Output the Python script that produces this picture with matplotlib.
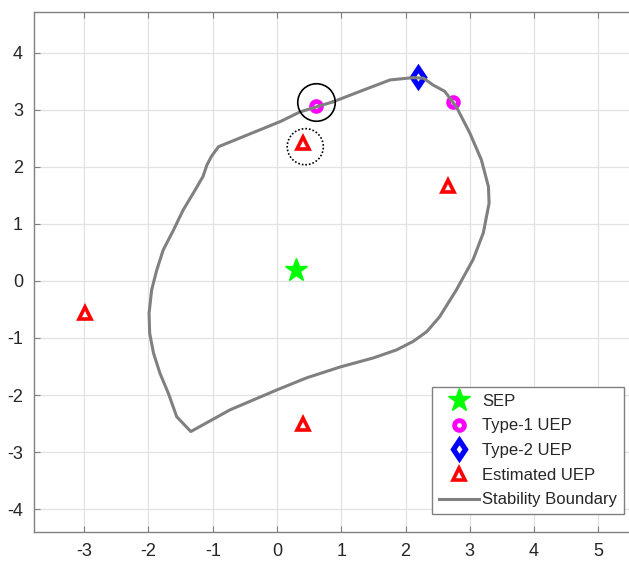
import numpy as np
import matplotlib.pyplot as plt

plt.rcParams["font.family"] = ["Liberation Sans", "DejaVu Sans"]
plt.rcParams["axes.unicode_minus"] = False

# equilibrium points
sep_x = [0.30]
sep_y = [0.19]

type1_x = [0.60, 2.74]
type1_y = [3.06, 3.13]

type2_x = [2.19]
type2_y = [3.57]

est_x = [0.40, 2.66, -2.99, 0.40]
est_y = [2.42, 1.66, -0.56, -2.50]

# stability boundary trace (closed curve)
bnd_x = [0.88, 0.36, 0.05, -0.91, -1.02, -1.09, -1.15, -1.30, -1.46, -1.61,
         -1.77, -1.87, -1.95, -1.99, -1.98, -1.92, -1.82, -1.69, -1.56, -1.34,
         -0.73, 0.00, 0.46, 0.98, 1.50, 1.86, 2.12, 2.33, 2.53, 2.79,
         3.05, 3.21, 3.30, 3.29, 3.18, 3.00, 2.79, 2.61, 2.43, 2.28,
         2.12, 1.76, 1.34, 0.88]
bnd_y = [3.14, 2.96, 2.79, 2.35, 2.18, 2.03, 1.83, 1.54, 1.24, 0.89,
         0.54, 0.19, -0.16, -0.57, -0.92, -1.27, -1.62, -1.97, -2.38, -2.64,
         -2.26, -1.91, -1.70, -1.51, -1.35, -1.21, -1.06, -0.89, -0.63, -0.16,
         0.37, 0.84, 1.36, 1.65, 2.12, 2.59, 3.05, 3.32, 3.43, 3.55,
         3.56, 3.52, 3.34, 3.14]

# highlighted regions
hl_solid = (0.60, 3.13)
hl_dotted = (0.44, 2.35)

xticks = [-3, -2, -1, 0, 1, 2, 3, 4, 5]
yticks = [-4, -3, -2, -1, 0, 1, 2, 3, 4]

fig = plt.figure(figsize=(6.29, 5.65), dpi=100)
ax = fig.add_axes([34 / 629, 33 / 565, 601 / 629, 520 / 565])

ax.plot(sep_x, sep_y, linestyle="none", marker="*", markersize=17,
        color="#00ff00", label="SEP", zorder=3)
ax.plot(type1_x, type1_y, linestyle="none", marker="o", markersize=7,
        markeredgewidth=3.5, markeredgecolor="#ff00ff", markerfacecolor="white",
        label="Type-1 UEP", zorder=3)
ax.plot(type2_x, type2_y, linestyle="none", marker="d", markersize=9.5,
        markeredgewidth=3.8, markeredgecolor="#0000ff", markerfacecolor="white",
        label="Type-2 UEP", zorder=3)
ax.plot(est_x, est_y, linestyle="none", marker="^", markersize=9,
        markeredgewidth=2.6, markeredgecolor="#ff0000", markerfacecolor="white",
        label="Estimated UEP", zorder=3)
ax.plot(bnd_x, bnd_y, color="#808080", linewidth=2.2, solid_joinstyle="round",
        label="Stability Boundary", zorder=4)

# circles marking the points of interest
ax.plot(*hl_solid, linestyle="none", marker="o", markersize=27,
        markerfacecolor="none", markeredgecolor="black", markeredgewidth=1.2,
        zorder=5)
ax.scatter(*hl_dotted, s=26 ** 2, facecolors="none", edgecolors="black",
           linewidths=1.2, linestyles=(0, (1, 1.2)), zorder=5)

ax.set_xlim(-3.78, 5.57)
ax.set_ylim(-4.40, 4.71)
ax.set_xticks(xticks)
ax.set_yticks(yticks)
ax.tick_params(direction="in", top=True, right=True, length=4,
               labelsize=13, labelcolor="#262626", color="#808080", pad=8)
ax.grid(True, color="#e2e2e2", linewidth=0.9)
ax.set_axisbelow(True)
for sp in ax.spines.values():
    sp.set_color("#808080")
    sp.set_linewidth(1.0)

leg = ax.legend(loc="lower right", bbox_to_anchor=(624 / 629, 51 / 565),
                bbox_transform=fig.transFigure, borderaxespad=0,
                fontsize=12, frameon=True, fancybox=False, framealpha=1,
                edgecolor="#808080", handlelength=2.4, handletextpad=0.2,
                labelspacing=0.58, borderpad=0.4)
leg.get_frame().set_linewidth(1.0)
for t in leg.get_texts():
    t.set_color("#262626")

fig.savefig("out.png", dpi=100)
